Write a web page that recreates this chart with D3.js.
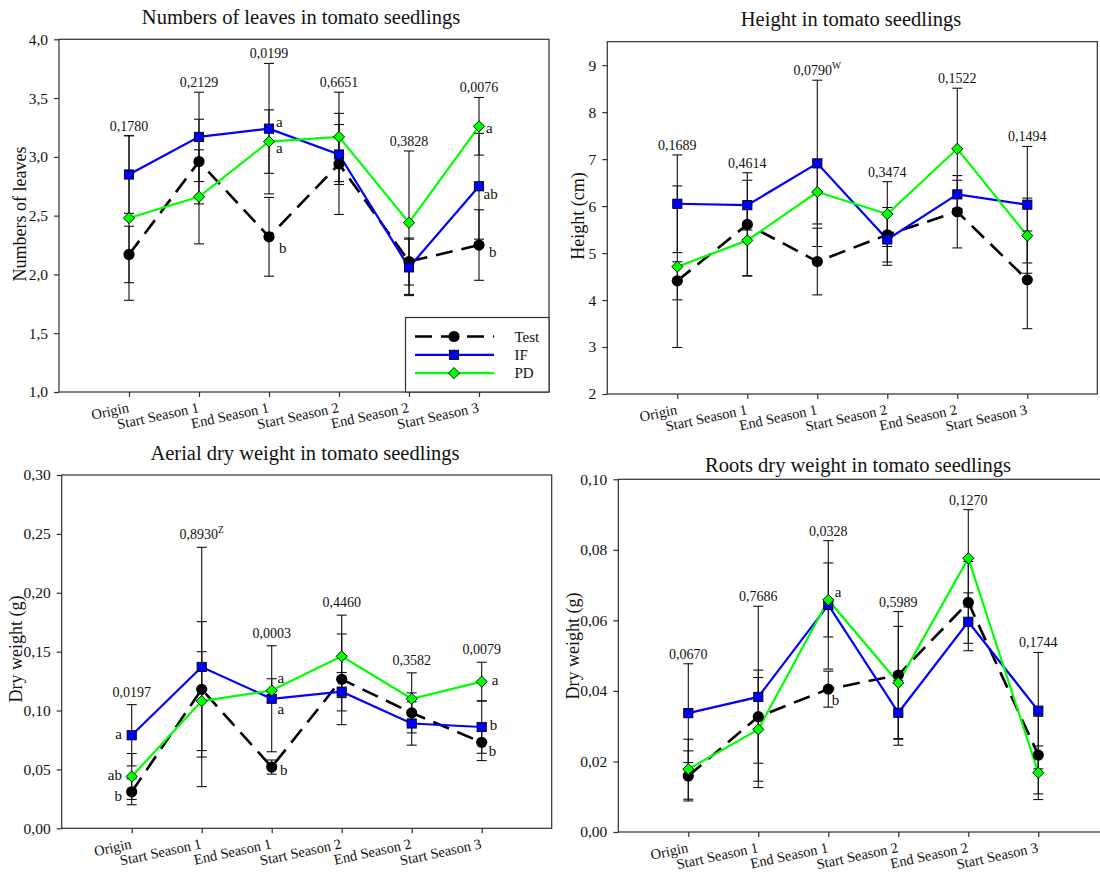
<!DOCTYPE html>
<html>
<head>
<meta charset="utf-8">
<script src="https://cdn.jsdelivr.net/npm/d3@7"></script>
<style>
  html, body { margin: 0; padding: 0; background: #fff; }
  svg { display: block; font-family: "Liberation Serif", "DejaVu Serif", serif; }
</style>
</head>
<body>
<svg id="chart" width="1100" height="875"></svg>
<script>
// ---------------- DATA ----------------
const categories = ["Origin", "Start Season 1", "End Season 1", "Start Season 2", "End Season 2", "Start Season 3"];
const seriesNames = ["Test", "IF", "PD"];

// Numbers of leaves
const leavesTest    = [2.17, 2.96, 2.32, 2.94, 2.11, 2.25];
const leavesTestErr = [0.24, 0.36, 0.335, 0.43, 0.20, 0.30];
const leavesIF      = [2.85, 3.17, 3.24, 3.02, 2.06, 2.75];
const leavesIFErr   = [0.33, 0.38, 0.555, 0.255, 0.24, 0.45];
const leavesPD      = [2.48, 2.66, 3.13, 3.17, 2.44, 3.26];
const leavesPDErr   = [0.70, 0.40, 0.27, 0.38, 0.61, 0.245];
const leavesP       = ["0,1780", "0,2129", "0,0199", "0,6651", "0,3828", "0,0076"];
const leavesPSup    = ["", "", "", "", "", ""];
const leavesTicks   = [1.0, 1.5, 2.0, 2.5, 3.0, 3.5, 4.0];
const leavesLetters = [[2, "IF", "a"], [2, "PD", "a"], [2, "Test", "b"], [5, "PD", "a"], [5, "IF", "ab"], [5, "Test", "b"]];

// Height
const heightTest    = [4.41, 5.61, 4.82, 5.39, 5.88, 4.43];
const heightTestErr = [0.405, 1.10, 0.71, 0.58, 0.77, 1.04];
const heightIF      = [6.05, 6.02, 6.91, 5.29, 6.25, 6.03];
const heightIFErr   = [1.04, 0.53, 1.77, 0.55, 0.30, 1.24];
const heightPD      = [4.71, 5.27, 6.30, 5.83, 7.22, 5.37];
const heightPDErr   = [1.72, 0.75, 0.68, 0.69, 1.29, 0.80];
const heightP       = ["0,1689", "0,4614", "0,0790", "0,3474", "0,1522", "0,1494"];
const heightPSup    = ["", "", "W", "", "", ""];
const heightTicks   = [2, 3, 4, 5, 6, 7, 8, 9];
const heightLetters = [];

// Aerial dry weight
const aerialTest    = [0.031, 0.118, 0.052, 0.1265, 0.098, 0.073];
const aerialTestErr = [0.011, 0.0575, 0.006, 0.0385, 0.017, 0.0155];
const aerialIF      = [0.079, 0.137, 0.110, 0.116, 0.089, 0.086];
const aerialIFErr   = [0.026, 0.1016, 0.045, 0.0163, 0.0184, 0.0223];
const aerialPD      = [0.044, 0.108, 0.117, 0.146, 0.110, 0.1245];
const aerialPDErr   = [0.0195, 0.042, 0.010, 0.035, 0.022, 0.0165];
const aerialP       = ["0,0197", "0,8930", "0,0003", "0,4460", "0,3582", "0,0079"];
const aerialPSup    = ["", "Z", "", "", "", ""];
const aerialTicks   = [0, 0.05, 0.10, 0.15, 0.20, 0.25, 0.30];
const aerialLetters = [[0, "IF", "a"], [0, "PD", "ab"], [0, "Test", "b"], [2, "PD", "a"], [2, "IF", "a"], [2, "Test", "b"], [5, "PD", "a"], [5, "IF", "b"], [5, "Test", "b"]];

// Roots dry weight
const rootsTest     = [0.0159, 0.0327, 0.0405, 0.0445, 0.0651, 0.0218];
const rootsTestErr  = [0.0071, 0.0132, 0.0051, 0.018, 0.0116, 0.011];
const rootsIF       = [0.0337, 0.0383, 0.0644, 0.0338, 0.0596, 0.0344];
const rootsIFErr    = [0.014, 0.0257, 0.0182, 0.0092, 0.0082, 0.0165];
const rootsPD       = [0.0178, 0.0291, 0.0658, 0.0423, 0.0776, 0.0168];
const rootsPDErr    = [0.0085, 0.0147, 0.0105, 0.016, 0.0138, 0.0076];
const rootsP        = ["0,0670", "0,7686", "0,0328", "0,5989", "0,1270", "0,1744"];
const rootsPSup     = ["", "", "", "", "", ""];
const rootsTicks    = [0, 0.02, 0.04, 0.06, 0.08, 0.10];
const rootsLetters  = [[2, "PD", "a"], [2, "Test", "b"]];

// ---------------- LAYOUT / STYLE ----------------
const panels = [
  { title: "Numbers of leaves in tomato seedlings", ylabel: "Numbers of leaves",
    vals: {Test: leavesTest, IF: leavesIF, PD: leavesPD}, errs: {Test: leavesTestErr, IF: leavesIFErr, PD: leavesPDErr},
    pv: leavesP, psup: leavesPSup, ticks: leavesTicks, letters: leavesLetters, fmt: ".1f", domain: [1, 4],
    x0: 59, y0: 39.3, w: 490, h: 352.7, titleX: 301, titleY: 24, ylabX: 20, ylabY: 214, pOff: 5, legend: true,
    letterOff: [[7, -2], [7, 11.5], [10, 16], [7, 7], [4.5, 13], [10, 11.6]] },
  { title: "Height in tomato seedlings", ylabel: "Height (cm)",
    vals: {Test: heightTest, IF: heightIF, PD: heightPD}, errs: {Test: heightTestErr, IF: heightIFErr, PD: heightPDErr},
    pv: heightP, psup: heightPSup, ticks: heightTicks, letters: heightLetters, fmt: "d", domain: [2, 9.5],
    x0: 607.3, y0: 41.7, w: 490, h: 352.3, titleX: 851, titleY: 26, ylabX: 578, ylabY: 216, pOff: 5, legend: false,
    letterOff: [] },
  { title: "Aerial dry weight in tomato seedlings", ylabel: "Dry weight (g)",
    vals: {Test: aerialTest, IF: aerialIF, PD: aerialPD}, errs: {Test: aerialTestErr, IF: aerialIFErr, PD: aerialPDErr},
    pv: aerialP, psup: aerialPSup, ticks: aerialTicks, letters: aerialLetters, fmt: ".2f", domain: [0, 0.30],
    x0: 61.7, y0: 475, w: 490, h: 353.3, titleX: 305, titleY: 460, ylabX: 16, ylabY: 649, pOff: 8, legend: false,
    letterOff: [[-9.7, 4], [-9.7, 4], [-9.7, 9.4], [5.8, -8], [5.8, 15.5], [8.3, 8.4], [10, 3.5], [8, 2.7], [7, 13.4]] },
  { title: "Roots dry weight in tomato seedlings", ylabel: "Dry weight (g)",
    vals: {Test: rootsTest, IF: rootsIF, PD: rootsPD}, errs: {Test: rootsTestErr, IF: rootsIFErr, PD: rootsPDErr},
    pv: rootsP, psup: rootsPSup, ticks: rootsTicks, letters: rootsLetters, fmt: ".2f", domain: [0, 0.10],
    x0: 618.3, y0: 479.3, w: 490, h: 352.7, titleX: 858, titleY: 471.5, ylabX: 573, ylabY: 646, pOff: 5, legend: false,
    letterOff: [[6.5, -2.5], [3.4, 15.7]] }
];

const style = {
  Test: { color: "#000000", width: 2.6, dash: "17,9" },
  IF:   { color: "#0000ff", width: 2.2, dash: null },
  PD:   { color: "#00ff00", width: 2.2, dash: null }
};
const frameColor = "#303030";

const svg = d3.select("#chart");

function drawMarker(g, name, cx, cy) {
  if (name === "Test") {
    g.append("circle").attr("cx", cx).attr("cy", cy).attr("r", 5.6).attr("fill", "#000");
  } else if (name === "IF") {
    g.append("rect").attr("x", cx - 4.6).attr("y", cy - 4.6).attr("width", 9.2).attr("height", 9.2)
      .attr("fill", "#0000ff").attr("stroke", "#000").attr("stroke-width", 0.9);
  } else {
    const s = 5.6;
    g.append("path").attr("d", `M${cx},${cy - s}L${cx + s},${cy}L${cx},${cy + s}L${cx - s},${cy}Z`)
      .attr("fill", "#00ff00").attr("stroke", "#000").attr("stroke-width", 0.9);
  }
}

panels.forEach(p => {
  const g = svg.append("g");
  const x = d3.scaleLinear().domain([0, categories.length + 1]).range([p.x0, p.x0 + p.w]);
  const y = d3.scaleLinear().domain(p.domain).range([p.y0 + p.h, p.y0]);
  const fmt = d3.format(p.fmt);

  // frame
  g.append("rect").attr("x", p.x0).attr("y", p.y0).attr("width", p.w).attr("height", p.h)
    .attr("fill", "none").attr("stroke", frameColor).attr("stroke-width", 1.2);

  // y axis
  const ya = g.append("g").attr("transform", `translate(${p.x0},0)`)
    .call(d3.axisLeft(y).tickValues(p.ticks).tickSize(5).tickPadding(6).tickFormat(d => fmt(d).replace(".", ",")));
  ya.select(".domain").remove();
  ya.selectAll("line").attr("stroke", frameColor).attr("stroke-width", 1.2);
  ya.selectAll("text").attr("font-family", "Liberation Serif").attr("font-size", 15.5).attr("fill", "#111");

  // x axis
  const xa = g.append("g").attr("transform", `translate(0,${p.y0 + p.h})`)
    .call(d3.axisBottom(x).tickValues(d3.range(1, categories.length + 1)).tickSize(5).tickFormat(d => categories[d - 1]));
  xa.select(".domain").remove();
  xa.selectAll("line").attr("stroke", frameColor).attr("stroke-width", 1.2);
  xa.selectAll("text").attr("font-family", "Liberation Serif").attr("font-size", 14.5).attr("fill", "#111")
    .attr("text-anchor", "end").attr("y", null).attr("dy", null)
    .attr("transform", "translate(0,20) rotate(-12)");

  // title
  g.append("text").attr("x", p.titleX).attr("y", p.titleY).attr("text-anchor", "middle")
    .attr("font-size", 20.5).attr("fill", "#111").text(p.title);
  // y label
  g.append("text").attr("transform", `translate(${p.ylabX},${p.ylabY}) rotate(-90)`).attr("text-anchor", "middle")
    .attr("dy", "0.35em").attr("font-size", 18).attr("fill", "#111").text(p.ylabel);

  const idx = d3.range(categories.length);

  // lines
  seriesNames.forEach(s => {
    const line = d3.line().x(i => x(i + 1)).y(i => y(p.vals[s][i]));
    g.append("path").attr("d", line(idx)).attr("fill", "none")
      .attr("stroke", style[s].color).attr("stroke-width", style[s].width)
      .attr("stroke-dasharray", style[s].dash);
  });

  // error bars
  seriesNames.forEach(s => {
    idx.forEach(i => {
      const cx = x(i + 1), v = p.vals[s][i], e = p.errs[s][i];
      const yt = y(v + e), yb = y(v - e);
      g.append("line").attr("x1", cx).attr("x2", cx).attr("y1", yt).attr("y2", yb).attr("stroke", "#111").attr("stroke-width", 1.1);
      g.append("line").attr("x1", cx - 5).attr("x2", cx + 5).attr("y1", yt).attr("y2", yt).attr("stroke", "#111").attr("stroke-width", 1.1);
      g.append("line").attr("x1", cx - 5).attr("x2", cx + 5).attr("y1", yb).attr("y2", yb).attr("stroke", "#111").attr("stroke-width", 1.1);
    });
  });

  // markers
  seriesNames.forEach(s => {
    idx.forEach(i => drawMarker(g, s, x(i + 1), y(p.vals[s][i])));
  });

  // p-values
  idx.forEach(i => {
    const top = d3.max(seriesNames, s => p.vals[s][i] + p.errs[s][i]);
    const t = g.append("text").attr("x", x(i + 1)).attr("y", y(top) - p.pOff).attr("text-anchor", "middle")
      .attr("font-size", 14).attr("fill", "#111").text(p.pv[i]);
    if (p.psup[i]) {
      t.append("tspan").attr("dy", -6).attr("font-size", 9.5).text(p.psup[i]);
    }
  });

  // letters
  p.letters.forEach((L, k) => {
    const [ci, s, txt] = L;
    const [dx, dy] = p.letterOff[k];
    g.append("text").attr("x", x(ci + 1) + dx).attr("y", y(p.vals[s][ci]) + dy)
      .attr("text-anchor", dx < 0 ? "end" : "start").attr("font-size", 15).attr("fill", "#111").text(txt);
  });

  // legend
  if (p.legend) {
    const lx = p.x0 + p.w - 143.5, ly = p.y0 + p.h - 74.5;
    const lg = g.append("g");
    lg.append("rect").attr("x", lx).attr("y", ly).attr("width", 143.5).attr("height", 74.5)
      .attr("fill", "#fff").attr("stroke", frameColor).attr("stroke-width", 1.2);
    seriesNames.forEach((s, k) => {
      const yy = ly + 19 + k * 18.3;
      lg.append("line").attr("x1", lx + 9.5).attr("x2", lx + 88.5).attr("y1", yy).attr("y2", yy)
        .attr("stroke", style[s].color).attr("stroke-width", style[s].width).attr("stroke-dasharray", style[s].dash);
      drawMarker(lg, s, lx + 48.5, yy);
      lg.append("text").attr("x", lx + 109).attr("y", yy).attr("dy", "0.35em").attr("font-size", 15).attr("fill", "#111").text(s);
    });
  }
});
</script>
</body>
</html>
